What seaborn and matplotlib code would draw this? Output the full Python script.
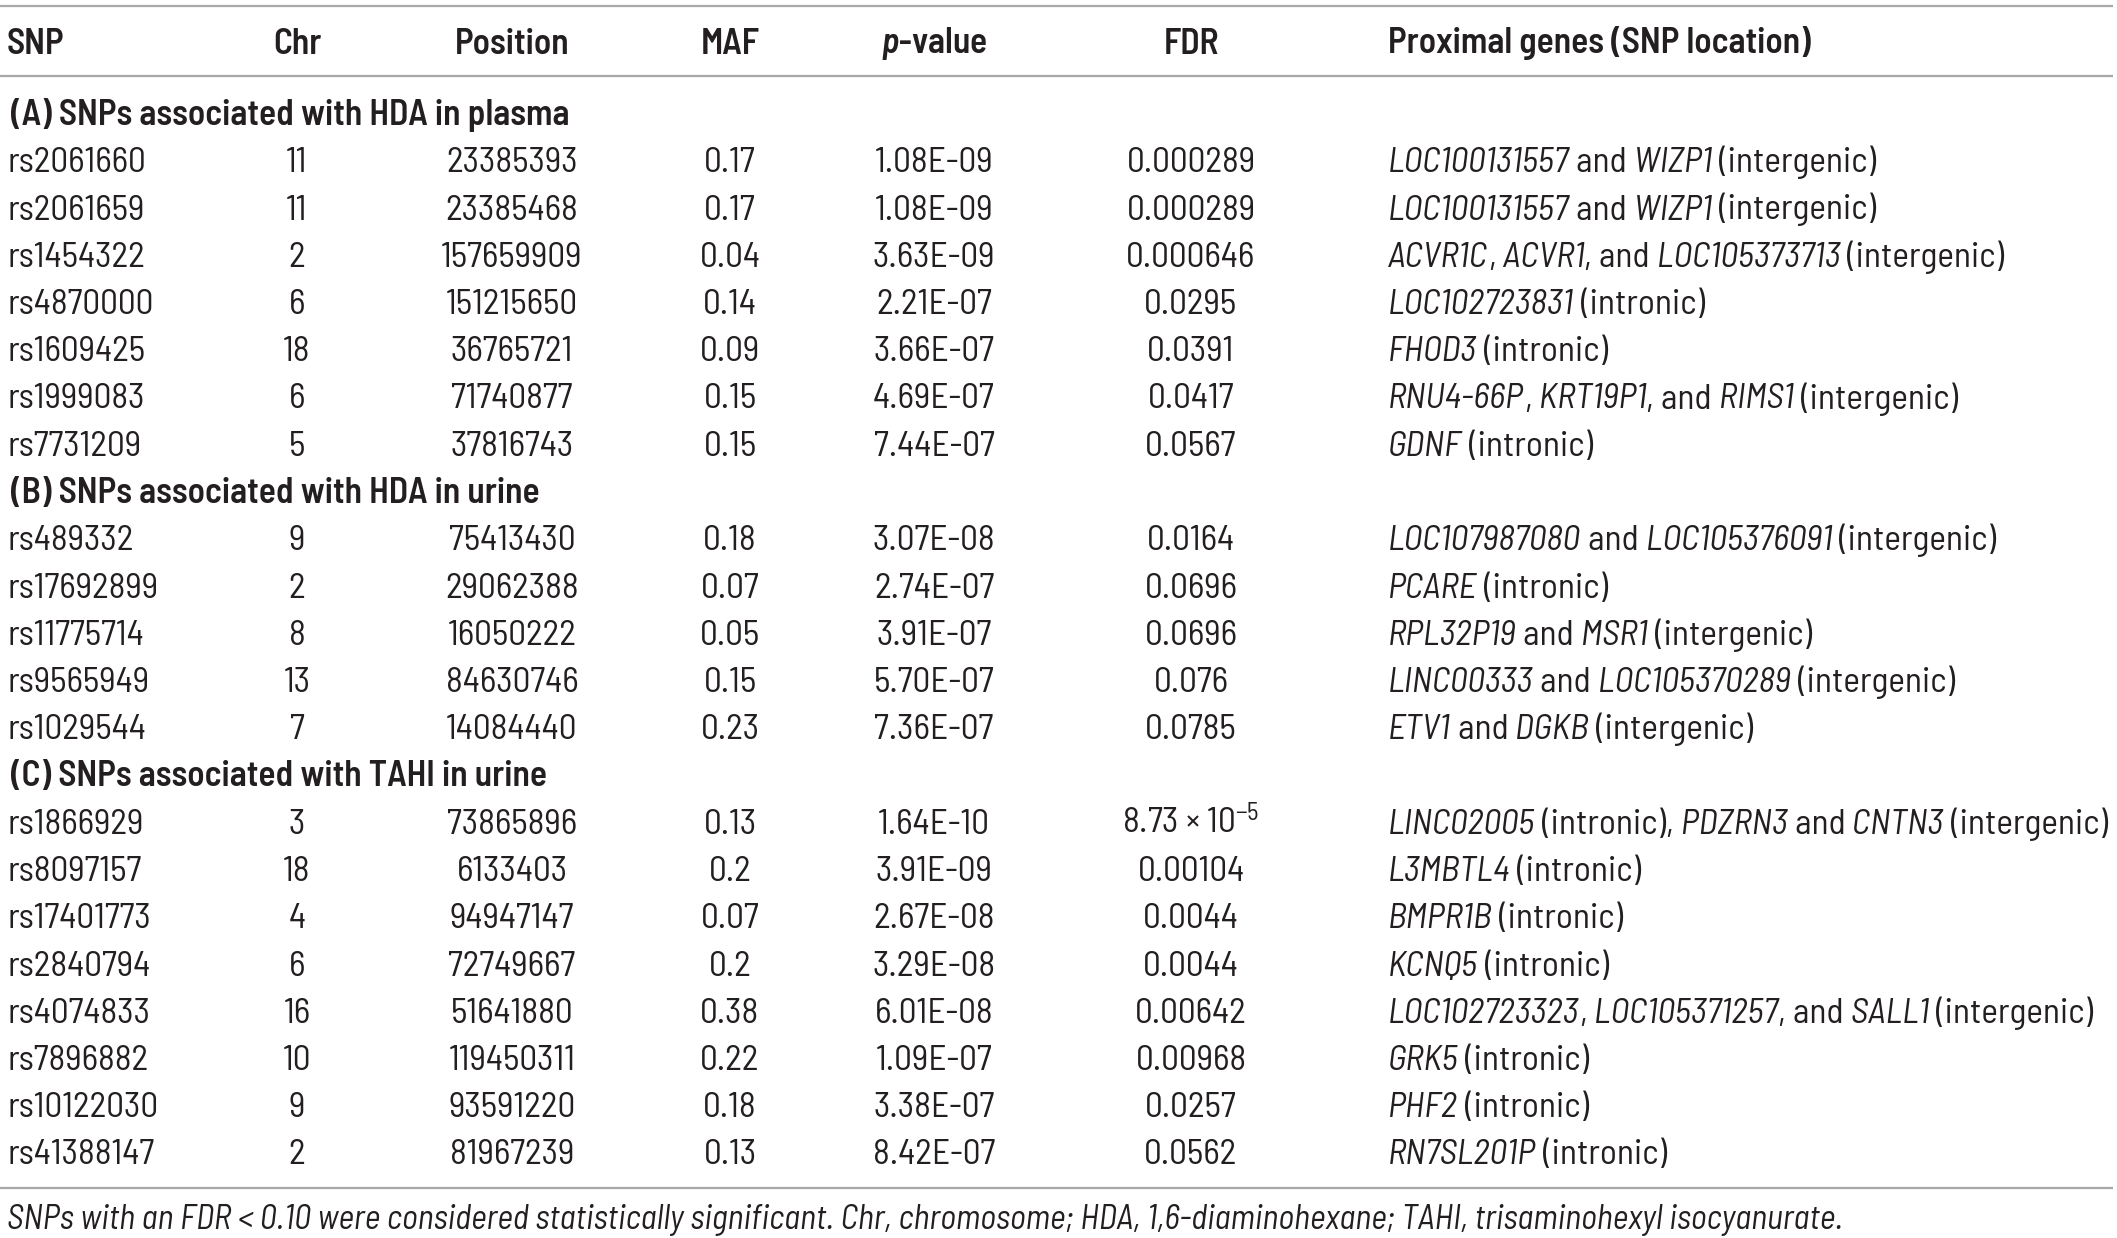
import matplotlib
matplotlib.use("Agg")
import matplotlib.pyplot as plt
import seaborn as sns

# ---------------- data ----------------
columns = ["SNP", "Chr", "Position", "MAF", "$\\mathbf{p}$-value", "FDR", "Proximal genes (SNP location)"]

section_titles = [
    "(A) SNPs associated with HDA in plasma",
    "(B) SNPs associated with HDA in urine",
    "(C) SNPs associated with TAHI in urine",
]

snp_a = ["rs2061660", "rs2061659", "rs1454322", "rs4870000", "rs1609425", "rs1999083", "rs7731209"]
chr_a = ["11", "11", "2", "6", "18", "6", "5"]
pos_a = ["23385393", "23385468", "157659909", "151215650", "36765721", "71740877", "37816743"]
maf_a = ["0.17", "0.17", "0.04", "0.14", "0.09", "0.15", "0.15"]
pval_a = ["1.08E-09", "1.08E-09", "3.63E-09", "2.21E-07", "3.66E-07", "4.69E-07", "7.44E-07"]
fdr_a = ["0.000289", "0.000289", "0.000646", "0.0295", "0.0391", "0.0417", "0.0567"]
genes_a = [
    "*LOC100131557* and *WIZP1* (intergenic)",
    "*LOC100131557* and *WIZP1* (intergenic)",
    "*ACVR1C*, *ACVR1*, and *LOC105373713* (intergenic)",
    "*LOC102723831* (intronic)",
    "*FHOD3* (intronic)",
    "*RNU4-66P*, *KRT19P1*, and *RIMS1* (intergenic)",
    "*GDNF* (intronic)",
]

snp_b = ["rs489332", "rs17692899", "rs11775714", "rs9565949", "rs1029544"]
chr_b = ["9", "2", "8", "13", "7"]
pos_b = ["75413430", "29062388", "16050222", "84630746", "14084440"]
maf_b = ["0.18", "0.07", "0.05", "0.15", "0.23"]
pval_b = ["3.07E-08", "2.74E-07", "3.91E-07", "5.70E-07", "7.36E-07"]
fdr_b = ["0.0164", "0.0696", "0.0696", "0.076", "0.0785"]
genes_b = [
    "*LOC107987080* and *LOC105376091* (intergenic)",
    "*PCARE* (intronic)",
    "*RPL32P19* and *MSR1* (intergenic)",
    "*LINC00333* and *LOC105370289* (intergenic)",
    "*ETV1* and *DGKB* (intergenic)",
]

snp_c = ["rs1866929", "rs8097157", "rs17401773", "rs2840794", "rs4074833", "rs7896882", "rs10122030", "rs41388147"]
chr_c = ["3", "18", "4", "6", "16", "10", "9", "2"]
pos_c = ["73865896", "6133403", "94947147", "72749667", "51641880", "119450311", "93591220", "81967239"]
maf_c = ["0.13", "0.2", "0.07", "0.2", "0.38", "0.22", "0.18", "0.13"]
pval_c = ["1.64E-10", "3.91E-09", "2.67E-08", "3.29E-08", "6.01E-08", "1.09E-07", "3.38E-07", "8.42E-07"]
fdr_c = ["8.73 \u00d7 10$^{-5}$", "0.00104", "0.0044", "0.0044", "0.00642", "0.00968", "0.0257", "0.0562"]
genes_c = [
    "*LINC02005* (intronic), *PDZRN3* and *CNTN3* (intergenic)",
    "*L3MBTL4* (intronic)",
    "*BMPR1B* (intronic)",
    "*KCNQ5* (intronic)",
    "*LOC102723323*, *LOC105371257*, and *SALL1* (intergenic)",
    "*GRK5* (intronic)",
    "*PHF2* (intronic)",
    "*RN7SL201P* (intronic)",
]

footnote = ("SNPs with an FDR < 0.10 were considered statistically significant. Chr, chromosome; "
            "HDA, 1,6-diaminohexane; TAHI, trisaminohexyl isocyanurate.")

# ---------------- style ----------------
sns.set_theme(style="white")
MAIN = "Barlow Semi Condensed"
FONT = [MAIN, "DejaVu Sans"]
plt.rcParams["font.family"] = FONT
plt.rcParams["mathtext.fontset"] = "custom"
plt.rcParams["mathtext.rm"] = MAIN
plt.rcParams["mathtext.it"] = MAIN + ":italic"
plt.rcParams["mathtext.bf"] = MAIN + ":italic:semibold"

TXT = "#231f20"
LINE = "#a8a8a8"
FS = 25.5
FS_FOOT = 24.4
HW = 600

W, H = 2117, 1238
fig = plt.figure(figsize=(W / 100, H / 100), dpi=100)
ax = fig.add_axes([0, 0, 1, 1])
ax.set_xlim(0, W)
ax.set_ylim(H, 0)
ax.axis("off")

col_pos = [(7, "left"), (297, "center"), (512, "center"), (730, "center"),
           (934, "center"), (1191, "center"), (1388, "left")]
BASE = 13  # baseline offset from row centre

ax.hlines([5.5, 75.6, 1188], 0, 2113, color=LINE, lw=1.6)

hy = 40.5 + BASE
for (x, ha), name in zip(col_pos, columns):
    ax.text(x, hy, name, ha=ha, va="baseline", fontsize=FS, fontweight=HW, color=TXT)


def segments(s):
    parts = s.split("*")
    segs = [(p, i % 2 == 1) for i, p in enumerate(parts) if p]
    out = []
    carry = ""
    for txt, it in segs:
        txt = carry + txt
        stripped = txt.rstrip(" ")
        carry = txt[len(stripped):]
        out.append((stripped, it))
    return out


def draw_genes(x, y, s):
    prev = None
    for txt, it in segments(s):
        style = "italic" if it else "normal"
        if prev is None:
            prev = ax.text(x, y, txt, ha="left", va="baseline", fontsize=FS,
                           fontstyle=style, color=TXT)
        else:
            prev = ax.annotate(txt, xy=(1, 0), xycoords=prev, ha="left", va="bottom",
                               fontsize=FS, fontstyle=style, color=TXT)


sections = [
    (snp_a, chr_a, pos_a, maf_a, pval_a, fdr_a, genes_a),
    (snp_b, chr_b, pos_b, maf_b, pval_b, fdr_b, genes_b),
    (snp_c, chr_c, pos_c, maf_c, pval_c, fdr_c, genes_c),
]

row = 0
for title, sec in zip(section_titles, sections):
    y = 112 + 47.25 * row + BASE
    ax.text(11, y, title, ha="left", va="baseline", fontsize=FS, fontweight=HW, color=TXT)
    row += 1
    for vals in zip(*sec):
        y = 112 + 47.25 * row + BASE
        for (x, ha), v in list(zip(col_pos, vals))[:6]:
            ax.text(x, y, v, ha=ha, va="baseline", fontsize=FS, color=TXT)
        draw_genes(col_pos[6][0], y, vals[6])
        row += 1

ax.text(7, 1218 + 11, footnote, ha="left", va="baseline", fontsize=FS_FOOT,
        fontstyle="italic", color=TXT)

fig.savefig("out.png", dpi=100, facecolor="white")
